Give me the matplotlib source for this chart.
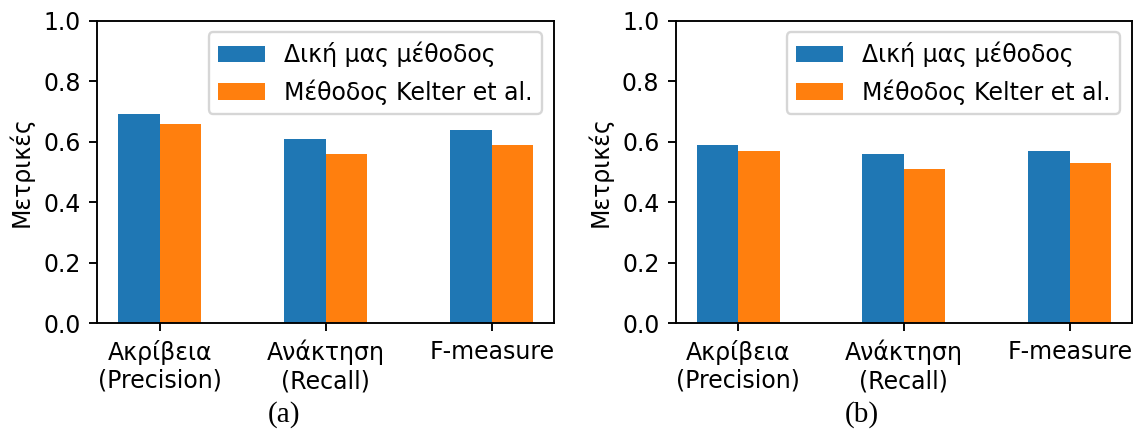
import matplotlib
matplotlib.use("Agg")
import matplotlib.pyplot as plt
import numpy as np

# metric results for the two experiments
categories = ["Ακρίβεια\n(Precision)", "Ανάκτηση\n(Recall)", "F-measure"]
series_names = ["Δική μας μέθοδος", "Μέθοδος Kelter et al."]

ours_a = [0.69, 0.61, 0.64]
kelter_a = [0.66, 0.56, 0.59]

ours_b = [0.59, 0.56, 0.57]
kelter_b = [0.57, 0.51, 0.53]

captions = ["(a)", "(b)"]

# the original panels look like default-styled plots scaled up ~1.7x
S = 1.7
plt.rcParams.update({
    "font.size": 10 * S,
    "axes.linewidth": 0.8 * S,
    "xtick.major.size": 3.5 * S,
    "ytick.major.size": 3.5 * S,
    "xtick.major.width": 0.8 * S,
    "ytick.major.width": 0.8 * S,
    "xtick.major.pad": 3.5 * S,
    "ytick.major.pad": 3.5 * S,
    "axes.labelpad": 4.0 * S,
    "legend.fontsize": 10 * S,
    "patch.linewidth": 1.0 * S,
})
W = 0.25

fig = plt.figure(figsize=(11.36, 4.30), dpi=100)
ax1 = fig.add_axes([0.0857, 0.248, 0.402, 0.704])
ax2 = fig.add_axes([0.595, 0.248, 0.4014, 0.704])

x = np.arange(len(categories))
for ax, ours, kelter, cap in [(ax1, ours_a, kelter_a, captions[0]),
                               (ax2, ours_b, kelter_b, captions[1])]:
    ax.bar(x - W / 2, ours, W, color="#1f77b4", label=series_names[0])
    ax.bar(x + W / 2, kelter, W, color="#ff7f0e", label=series_names[1])
    ax.set_xticks(x)
    ax.set_xticklabels(categories)
    ax.set_ylim(0, 1.0)
    ax.set_yticks(np.arange(0, 1.01, 0.2))
    ax.set_ylabel("Μετρικές")
    ax.legend(loc="upper right")
    # caption under each panel
    bb = ax.get_position()
    fig.text((bb.x0 + bb.x1) / 2 - 0.037, 0.035, cap, ha="center", va="center",
             family="Liberation Serif", fontsize=21)

fig.savefig("out.png", dpi=100)
